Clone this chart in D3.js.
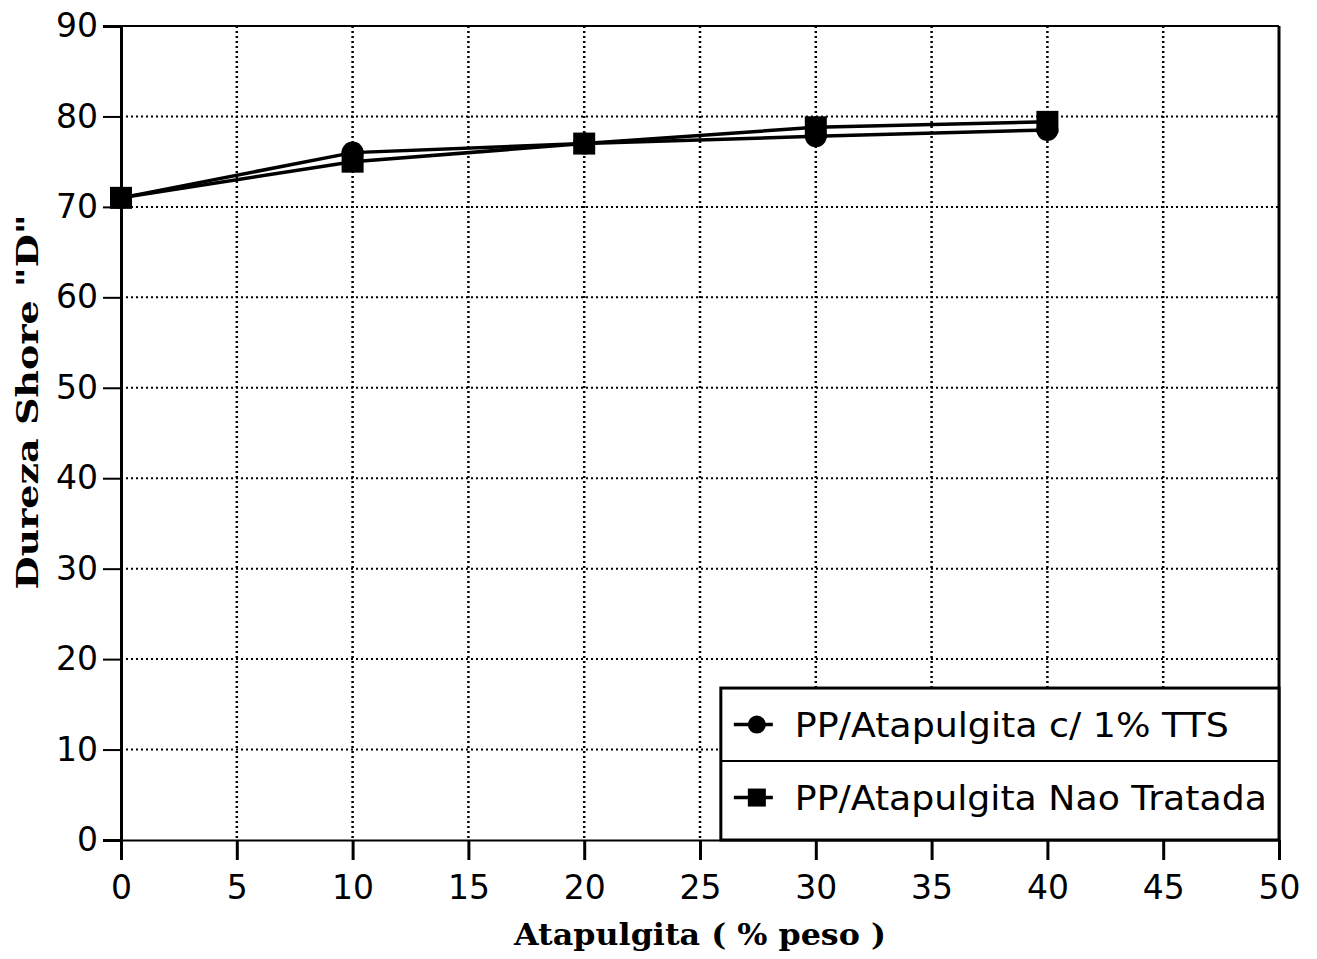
<!DOCTYPE html>
<html>
<head>
<meta charset="utf-8">
<script src="https://cdn.jsdelivr.net/npm/d3@7"></script>
<style>
  body { margin: 0; background: #fff; }
  svg { display: block; }
</style>
</head>
<body>
<div id="chart"></div>
<script>
"use strict";

/* Data */
const xValues = [0, 10, 20, 30, 40];
const tratadaTTS = [71, 76, 77, 77.8, 78.5];     // PP/Atapulgita c/ 1% TTS (circles)
const naoTratada = [71, 75, 77, 78.8, 79.4];     // PP/Atapulgita Nao Tratada (squares)
const xTicks = [0, 5, 10, 15, 20, 25, 30, 35, 40, 45, 50];
const yTicks = [0, 10, 20, 30, 40, 50, 60, 70, 80, 90];
const seriesNames = ["PP/Atapulgita c/ 1% TTS", "PP/Atapulgita Nao Tratada"];

const width = 1317, height = 959;
const margin = {top: 26, right: 38, bottom: 119, left: 121};
const plotW = width - margin.left - margin.right,
      plotH = height - margin.top - margin.bottom;

const svg = d3.select("#chart").append("svg")
    .attr("width", width)
    .attr("height", height);

const g = svg.append("g")
    .attr("transform", "translate(" + margin.left + "," + margin.top + ")");

let x = d3.scaleLinear().domain([0, 50]).range([0, plotW]),
    y = d3.scaleLinear().domain([0, 90]).range([plotH, 0]);

const numFont = "'DejaVu Sans', sans-serif";
const titleFont = "'DejaVu Serif', serif";

/* Dotted grid */
g.append("g").selectAll("line")
    .data(xTicks.slice(1, -1))
    .enter().append("line")
    .attr("x1", d => x(d)).attr("x2", d => x(d))
    .attr("y1", 0).attr("y2", plotH)
    .attr("stroke", "#000").attr("stroke-width", 2.5)
    .attr("stroke-dasharray", "2,3");

g.append("g").selectAll("line")
    .data(yTicks.slice(1, -1))
    .enter().append("line")
    .attr("x1", 0).attr("x2", plotW)
    .attr("y1", d => y(d)).attr("y2", d => y(d))
    .attr("stroke", "#000").attr("stroke-width", 2)
    .attr("stroke-dasharray", "2,3");

/* Axes */
let xAxis = g.append("g")
    .attr("transform", "translate(0," + plotH + ")")
    .call(d3.axisBottom(x).tickValues(xTicks).tickSize(20).tickPadding(16));
xAxis.select(".domain").attr("stroke-width", 2);
xAxis.selectAll(".tick line").attr("stroke-width", 3);
xAxis.selectAll("text")
    .style("font-family", numFont).style("font-size", "33px").attr("fill", "#000");

let yAxis = g.append("g")
    .call(d3.axisLeft(y).tickValues(yTicks).tickSize(18).tickPadding(5));
yAxis.select(".domain").attr("stroke-width", 3);
yAxis.selectAll(".tick line").attr("stroke-width", 2);
yAxis.selectAll("text")
    .style("font-family", numFont).style("font-size", "33px").attr("fill", "#000");

/* Top and right frame */
g.append("line").attr("x1", 0).attr("x2", plotW).attr("y1", 0).attr("y2", 0)
    .attr("stroke", "#000").attr("stroke-width", 2);
g.append("line").attr("x1", plotW).attr("x2", plotW).attr("y1", 0).attr("y2", plotH)
    .attr("stroke", "#000").attr("stroke-width", 3);

/* Series lines */
const line = d3.line().x(d => x(d[0])).y(d => y(d[1]));
const circleData = xValues.map((v, i) => [v, tratadaTTS[i]]),
      squareData = xValues.map((v, i) => [v, naoTratada[i]]);

[circleData, squareData].forEach(function(data) {
  g.append("path")
      .datum(data)
      .attr("d", line)
      .attr("fill", "none")
      .attr("stroke", "#000")
      .attr("stroke-width", 3.5);
});

/* Markers */
g.selectAll(".sq")
    .data(squareData)
    .enter().append("rect")
    .attr("class", "sq")
    .attr("x", d => x(d[0]) - 11).attr("y", d => y(d[1]) - 11)
    .attr("width", 22).attr("height", 22)
    .attr("fill", "#000");

g.selectAll(".ci")
    .data(circleData)
    .enter().append("circle")
    .attr("class", "ci")
    .attr("cx", d => x(d[0])).attr("cy", d => y(d[1]))
    .attr("r", 11)
    .attr("fill", "#000");

/* Axis titles */
svg.append("text")
    .attr("x", margin.left + plotW / 2).attr("y", 945)
    .attr("text-anchor", "middle")
    .attr("textLength", 372).attr("lengthAdjust", "spacingAndGlyphs")
    .style("font-family", titleFont)
    .style("font-weight", "bold").style("font-size", "29px")
    .text("Atapulgita ( % peso )");

svg.append("text")
    .attr("transform", "translate(38,402) rotate(-90)")
    .attr("text-anchor", "middle")
    .attr("textLength", 375).attr("lengthAdjust", "spacingAndGlyphs")
    .style("font-family", titleFont)
    .style("font-weight", "bold").style("font-size", "29px")
    .text("Dureza Shore \"D\"");

/* Legend */
const legX = x(25.9), legY = y(16.8), legW = plotW - x(25.9), rowH = 73;
let legend = g.append("g");
legend.append("rect")
    .attr("x", legX).attr("y", legY)
    .attr("width", legW).attr("height", plotH - legY)
    .attr("fill", "#fff").attr("stroke", "#000").attr("stroke-width", 3);
legend.append("line")
    .attr("x1", legX).attr("x2", legX + legW)
    .attr("y1", legY + rowH).attr("y2", legY + rowH)
    .attr("stroke", "#000").attr("stroke-width", 2);

seriesNames.forEach(function(name, i) {
  let cy = legY + rowH * i + rowH / 2;
  legend.append("line")
      .attr("x1", legX + 13).attr("x2", legX + 52)
      .attr("y1", cy).attr("y2", cy)
      .attr("stroke", "#000").attr("stroke-width", 3.5);
  if (i === 0) {
    legend.append("circle").attr("cx", legX + 36).attr("cy", cy).attr("r", 9).attr("fill", "#000");
  } else {
    legend.append("rect").attr("x", legX + 27).attr("y", cy - 9)
        .attr("width", 18).attr("height", 18).attr("fill", "#000");
  }
  legend.append("text")
      .attr("x", legX + 74).attr("y", cy + 12)
      .attr("textLength", i === 0 ? 434 : 472).attr("lengthAdjust", "spacingAndGlyphs")
      .style("font-family", numFont).style("font-size", "33px")
      .text(name);
});
</script>
</body>
</html>
